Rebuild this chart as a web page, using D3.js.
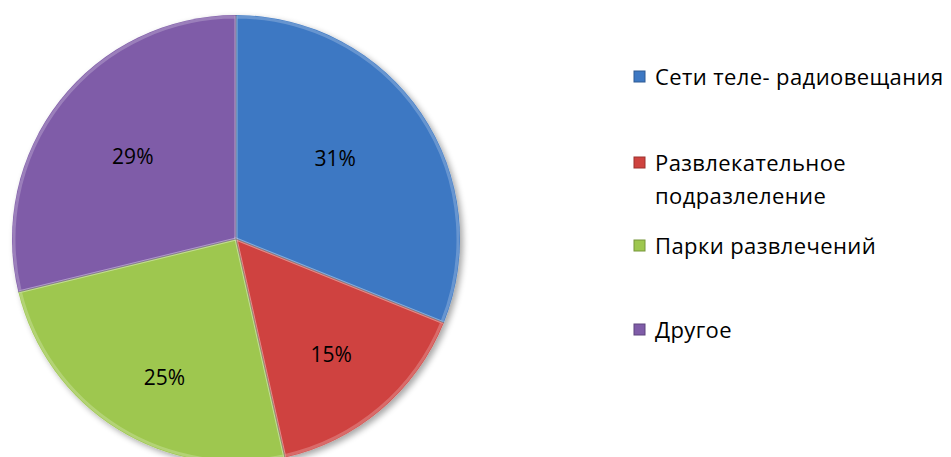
<!DOCTYPE html>
<html>
<head>
<meta charset="utf-8">
<script src="https://cdn.jsdelivr.net/npm/d3@7"></script>
<style>
  body { margin: 0; background: #fff; }
  text { font-family: "Open Sans", sans-serif; }
</style>
</head>
<body>
<script>
// chart data
var categories = ['Сети теле- радиовещания', 'Развлекательное подразлеление', 'Парки развлечений', 'Другое'];
var legendLines = [['Сети теле- радиовещания'], ['Развлекательное', 'подразлеление'], ['Парки развлечений'], ['Другое']];
var values = [31.1, 15.4, 24.7, 28.8];
var colors = ['#3d78c3', '#cf433f', '#9ec74f', '#7f5ca8'];

var width = 951, height = 457;
var cx = 236, cy = 239, radius = 224;
// label placement tweaks (excel best-fit look): distance as fraction of radius, angle nudge in degrees
var labelRadius = [0.57, 0.67, 0.695, 0.59];
var labelNudge = [-5, 1, -4.5, 0.5];

var svg = d3.select('body').append('svg')
  .attr('width', width)
  .attr('height', height);

var defs = svg.append('defs');
var shadow = defs.append('filter').attr('id', 'shadow')
  .attr('x', '-10%').attr('y', '-10%').attr('width', '120%').attr('height', '120%');
shadow.append('feGaussianBlur').attr('in', 'SourceAlpha').attr('stdDeviation', 3);
shadow.append('feOffset').attr('dx', 3).attr('dy', 3).attr('result', 'blur');
shadow.append('feComponentTransfer').append('feFuncA').attr('type', 'linear').attr('slope', 0.35);
var merge = shadow.append('feMerge');
merge.append('feMergeNode');
merge.append('feMergeNode').attr('in', 'SourceGraphic');

var pie = d3.pie().sort(null).value(function(d) { return d; });
var arc = d3.arc().innerRadius(0).outerRadius(radius);
var bevel = d3.arc().innerRadius(0).outerRadius(radius - 2);

var g = svg.append('g').attr('transform', 'translate(' + cx + ',' + cy + ')');
var arcs = pie(values);

g.append('g').attr('filter', 'url(#shadow)')
  .selectAll('path')
  .data(arcs)
  .enter()
  .append('path')
  .attr('d', arc)
  .attr('fill', function(d, i) { return colors[i]; });

// soft highlight on slice edges
g.append('g').selectAll('path')
  .data(arcs)
  .enter()
  .append('path')
  .attr('d', bevel)
  .attr('fill', 'none')
  .attr('stroke', 'rgba(255,255,255,0.22)')
  .attr('stroke-width', 3);

// dark seams between slices
g.append('g').selectAll('line')
  .data(arcs)
  .enter()
  .append('line')
  .attr('x1', 0).attr('y1', 0)
  .attr('x2', function(d) { return radius * Math.sin(d.startAngle); })
  .attr('y2', function(d) { return -radius * Math.cos(d.startAngle); })
  .attr('stroke', 'rgba(0,0,0,0.3)')
  .attr('stroke-width', 1);

// percentage labels
g.selectAll('text.pct')
  .data(arcs)
  .enter()
  .append('text')
  .attr('class', 'pct')
  .attr('transform', function(d, i) {
    var r = radius * labelRadius[i];
    var a = (d.startAngle + d.endAngle) / 2 + labelNudge[i] * Math.PI / 180;
    return 'translate(' + [r * Math.sin(a), -r * Math.cos(a)] + ')';
  })
  .attr('text-anchor', 'middle')
  .attr('dy', '0.35em')
  .attr('font-size', 21)
  .attr('fill', '#000')
  .text(function(d) { return Math.round(d.value) + '%'; });

// legend
var legendY = [77, 163, 246, 330];
var legend = svg.append('g');
var items = legend.selectAll('g')
  .data(categories)
  .enter()
  .append('g')
  .attr('transform', function(d, i) { return 'translate(634,' + legendY[i] + ')'; });

items.append('rect')
  .attr('x', 0).attr('y', -6)
  .attr('width', 11).attr('height', 11)
  .attr('fill', function(d, i) { return colors[i]; })
  .attr('stroke', function(d, i) { return d3.color(colors[i]).darker(0.8); })
  .attr('stroke-width', 1);

items.append('text')
  .attr('font-size', 22)
  .attr('letter-spacing', 0.4)
  .attr('fill', '#000')
  .each(function(d, i) {
    var t = d3.select(this);
    legendLines[i].forEach(function(line, j) {
      t.append('tspan')
        .attr('x', 21)
        .attr('y', j * 33)
        .attr('dy', '0.35em')
        .text(line);
    });
  });
</script>
</body>
</html>
